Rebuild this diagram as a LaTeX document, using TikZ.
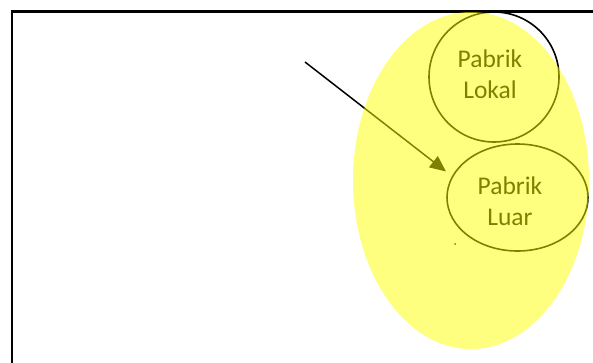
\documentclass[tikz,border=0pt]{standalone}
\usepackage{fontspec}
\setmainfont{Carlito}
\usetikzlibrary{arrows.meta,shapes.geometric}
\definecolor{hilite}{RGB}{255,255,0}
\begin{document}
\begin{tikzpicture}[x=1pt,y=-1pt,
  outline/.style={draw=black,line width=1.6pt},
  label/.style={font=\fontsize{25.5}{31}\selectfont,align=center,text=black},
  overlay/.style={fill=hilite,fill opacity=0.5,draw=none}]
\useasboundingbox (0,0) rectangle (593,362);
\begin{scope}
\clip (0,0) rectangle (593,362);
\draw[line width=2.4pt] (12,11.5) rectangle (593.7,380);
\node[outline,circle,minimum size=130pt,inner sep=0pt] (lokal) at (494,77) {};
\node[outline,ellipse,minimum width=141pt,minimum height=107pt,inner sep=0pt] (luar) at (517.5,197.5) {};
\node[label] (lokaltext) at (490,74) {Pabrik\\Lokal};
\node[label] (luartext) at (510,201) {Pabrik\\Luar};
\coordinate (start) at (305,62);
\coordinate (tip) at (446,171.5);
\draw[line width=1.5pt,-{Triangle[length=16pt,width=14pt]}] (start) -- (tip);
\fill (455,244) circle (1);
\fill[overlay] (471,180.5) ellipse (118 and 168.5);
\end{scope}
\end{tikzpicture}
\end{document}
